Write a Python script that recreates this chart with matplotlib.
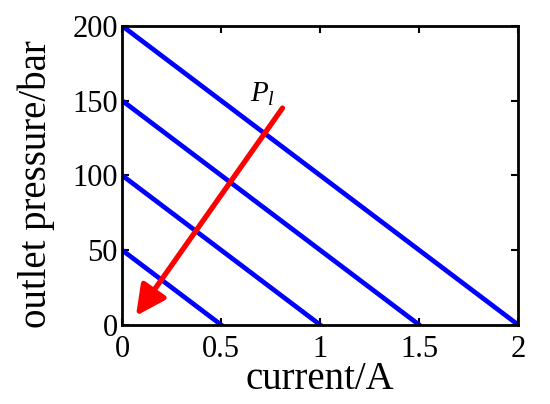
import matplotlib
matplotlib.use("Agg")
import matplotlib.pyplot as plt

plt.rcParams['font.family'] = ['Liberation Serif', 'DejaVu Serif']
plt.rcParams['mathtext.fontset'] = 'custom'
plt.rcParams['mathtext.rm'] = 'Liberation Serif'
plt.rcParams['mathtext.it'] = 'Liberation Serif:italic'

# each line goes from (0, p0) to (i0, 0)
start_pressure = [200, 150, 100, 50]
end_current = [2, 1.5, 1, 0.5]
x_ticks = [0, 0.5, 1, 1.5, 2]
x_tick_labels = ['0', '0.5', '1', '1.5', '2']
y_ticks = [0, 50, 100, 150, 200]
arrow_tail = (0.81, 145)
arrow_head = (0.07, 6)

fig = plt.figure(figsize=(5.5, 4.04), dpi=100)
ax = fig.add_axes([0.222, 0.196, 0.72, 0.74])

for p0, i0 in zip(start_pressure, end_current):
    ax.plot([0, i0], [p0, 0], color='#0000ff', lw=3.4)

ax.annotate('', xy=arrow_head, xytext=arrow_tail,
            arrowprops=dict(arrowstyle='-|>', lw=3.8, color='#ff0000',
                            mutation_scale=45, shrinkA=0, shrinkB=0))
ax.text(0.71, 154, r'$P_l$', fontsize=21, ha='center', va='center')

ax.set_xlim(0, 2)
ax.set_ylim(0, 200)
ax.set_xticks(x_ticks)
ax.set_xticklabels(x_tick_labels)
ax.set_yticks(y_ticks)
ax.tick_params(direction='in', labelsize=22, width=1.5, length=5,
               top=True, right=True, pad=3)
ax.tick_params(axis='x', pad=7)
for s in ax.spines.values():
    s.set_linewidth(2)
ax.set_xlabel('current/A', fontsize=28, labelpad=-2)
ax.set_ylabel('outlet pressure/bar', fontsize=28)
ax.yaxis.set_label_coords(-0.17, 0.47)

fig.savefig('out.png', dpi=100)
